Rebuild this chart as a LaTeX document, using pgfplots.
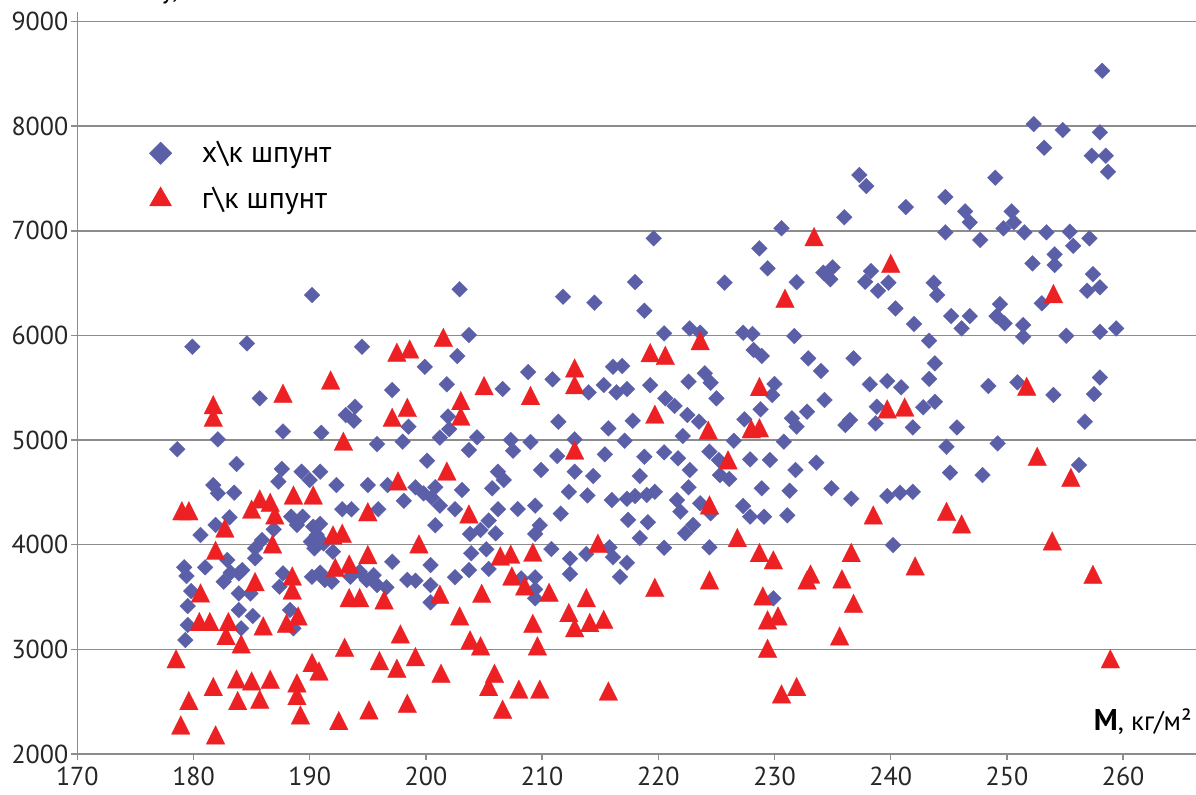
\documentclass[border=0pt]{standalone}
\usepackage{fontspec}
\setmainfont{PT Sans}
\usepackage{pgfplots}
\pgfplotsset{compat=1.18}
\definecolor{myblue}{RGB}{90,95,168}
\definecolor{myred}{RGB}{237,33,36}
\definecolor{gridgray}{RGB}{140,140,140}
\begin{document}
\begin{tikzpicture}
\useasboundingbox (-38.65pt,-20pt) rectangle (559.35pt,377pt);
\begin{axis}[
  at={(0pt,0pt)}, anchor=south west,
  scale only axis,
  width=559.35pt, height=371.15pt,
  xmin=170, xmax=266.27,
  ymin=2000, ymax=9094,
  xtick={170,180,...,260},
  ytick={2000,3000,...,9000},
  axis x line*=bottom, axis y line*=left,
  axis line style={gridgray, line width=0.7pt, -},
  tick align=outside,
  major tick length=3pt,
  tick style={gridgray, line width=0.7pt},
  ymajorgrids,
  grid style={gridgray, line width=0.7pt},
  /pgf/number format/assume math mode=true,
  /pgf/number format/1000 sep={},
  scaled ticks=false,
  ticklabel style={font=\fontsize{13}{15}\selectfont, text=black!85},
  yticklabel style={xshift=2pt},
  legend cell align=left,
  legend style={draw=none, fill=none, at={(0.0586,0.837)}, anchor=north west,
    font=\fontsize{15}{18}\selectfont, row sep=7pt, column sep=13pt},
  clip=false,
]
\addplot[only marks, mark=square*, mark size=2.8pt,
  mark options={rotate=45, fill=myblue, draw=myblue, line width=0.1pt},
  legend image post style={mark size=4pt}]
coordinates {
(190.2,6386)(179.9,5892)(184.6,5924)(194.5,5892)(185.7,5399)(197.1,5478)(193.1,5240)(193.9,5319)(193.8,5185)
(187.7,5082)(191.0,5070)(182.1,5007)(178.6,4912)(195.8,4962)(198.0,4985)(198.5,5128)(183.7,4772)(187.6,4724)
(187.3,4603)(189.3,4698)(190.0,4618)(190.9,4698)(192.3,4570)(181.7,4570)(182.1,4491)(183.5,4497)(195.0,4570)
(196.7,4570)(198.1,4420)
(195.9,4339)(192.8,4339)(193.6,4339)(188.4,4268)(188.9,4189)(189.4,4268)(190.3,4173)(190.9,4199)(186.9,4147)
(183.1,4262)(181.9,4189)(180.6,4093)(185.3,3965)(185.9,4045)(190.1,4029)(190.4,3965)(191.2,4013)(192.0,3933)
(185.3,3870)(182.9,3854)(179.2,3784)(179.4,3701)(181.0,3784)(183.2,3733)(183.9,3726)(184.2,3758)(182.6,3647)
(187.7,3726)(190.2,3694)(190.9,3733)(191.3,3663)(191.9,3647)(193.5,3694)(194.3,3742)(194.9,3663)(195.5,3710)
(195.8,3615)(196.6,3593)(197.1,3837)(198.4,3663)(187.4,3599)(184.9,3534)(179.8,3557)(179.5,3414)(183.9,3534)
(183.9,3376)(185.1,3319)(188.3,3376)(188.6,3201)(179.5,3233)(184.1,3201)(179.3,3089)(190.6,4093)
(202.9,6441)(203.7,6004)(202.7,5803)(199.9,5700)(201.8,5533)(206.6,5488)(208.8,5650)(210.9,5581)(211.8,6370)
(214.5,6313)(218.0,6510)(218.8,6236)(220.5,6020)(214.0,5456)(215.3,5526)(216.1,5701)(216.9,5708)(216.4,5456)
(217.3,5488)(219.3,5525)(220.6,5399)(201.9,5225)(202.0,5104)(201.2,5023)(204.4,5026)(203.7,4905)(211.4,5175)
(207.3,5001)(207.5,4898)(209.0,4982)(211.3,4848)(212.8,5007)(215.7,5112)(217.8,5185)(217.1,4994)(215.4,4864)
(218.8,4841)(220.5,4883)(200.1,4803)(209.9,4714)(212.8,4698)(214.4,4657)(218.4,4657)(206.2,4698)(206.7,4618)
(203.1,4523)(205.7,4539)(199.1,4549)(199.8,4491)(200.8,4549)(200.5,4451)(201.2,4374)(202.5,4339)(212.3,4506)
(213.9,4471)(216.0,4427)(217.3,4439)(218.0,4465)(219.0,4475)(219.7,4506)(206.2,4339)(207.9,4341)(209.4,4374)
(211.6,4297)(200.8,4186)(205.4,4231)(204.7,4141)(203.8,4103)(206.0,4109)(209.8,4186)(209.4,4103)(217.4,4237)
(219.1,4215)(218.4,4064)(203.9,3918)(205.2,3956)(210.8,3959)(212.4,3867)(213.8,3911)(215.8,3975)(216.1,3880)
(217.3,3828)(220.5,3971)(200.4,3806)(199.1,3656)(200.4,3615)(200.4,3450)(202.5,3689)(203.7,3758)(205.4,3768)
(208.2,3678)(209.4,3688)(209.4,3573)(209.4,3487)(212.4,3720)(216.7,3694)
(225.7,6504)(231.9,6510)(234.2,6600)(234.8,6536)(235.0,6651)(237.8,6513)(238.3,6615)(238.9,6427)(239.8,6504)
(240.4,6258)(242.0,6109)(243.3,5950)(222.7,6067)(223.6,6026)(227.3,6026)(228.1,6014)(231.7,5994)(228.2,5861)
(228.9,5803)(232.9,5781)(234.0,5660)(236.8,5781)(222.6,5558)(224.0,5638)(224.5,5548)(225.0,5399)(230.0,5536)
(229.8,5431)(221.4,5326)(222.5,5240)(223.5,5176)(228.8,5294)(227.4,5198)(232.8,5271)(234.3,5383)(231.5,5208)
(231.9,5128)(236.1,5144)(236.5,5192)(238.2,5533)(239.7,5564)(240.9,5504)(238.8,5319)(238.7,5160)(241.9,5121)
(242.8,5314)(243.3,5585)(222.1,5039)(221.7,4826)(222.7,4714)(224.4,4889)(225.2,4810)(226.5,4994)(230.8,4985)
(227.9,4816)(229.6,4810)(231.8,4714)(233.6,4784)(225.3,4666)(226.1,4628)(222.6,4549)(228.9,4539)(231.3,4516)
(234.9,4539)(236.6,4439)(239.7,4465)(240.8,4497)(241.9,4506)(221.6,4427)(221.9,4316)(223.6,4396)(224.5,4301)
(227.3,4370)(227.9,4268)(229.1,4268)(231.1,4281)(223.0,4189)(222.3,4109)(224.4,3975)(240.2,3997)(229.9,3487)
(243.7,6504)(244.0,6386)(245.2,6185)(246.1,6067)(246.8,6185)(249.4,6299)(249.1,6185)(249.8,6116)(251.4,6099)
(251.4,5988)(253.0,6307)(255.1,5997)(257.4,6585)(256.9,6427)(258.0,6460)(258.0,6035)(259.4,6067)(243.8,5733)
(243.8,5366)(248.4,5517)(250.9,5552)(254.0,5431)(258.0,5598)(257.5,5440)(256.7,5176)(245.7,5121)(244.8,4936)
(249.2,4968)(245.1,4689)(247.9,4666)(256.2,4762)
(258.2,8529)(252.3,8020)(254.8,7963)(258.0,7941)(253.2,7794)(257.3,7717)(258.5,7717)(258.7,7564)(249.0,7507)
(237.3,7533)(237.9,7428)(244.7,7323)(241.3,7227)(236.0,7129)(246.4,7186)(246.8,7081)(250.4,7186)(250.6,7081)
(249.7,7024)(244.7,6985)(247.7,6912)(251.5,6985)(253.4,6985)(255.4,6991)(257.1,6928)(255.7,6857)(252.2,6689)
(254.1,6775)(254.1,6673)(230.6,7024)(219.6,6928)(228.7,6832)(229.4,6641)
};
\addlegendentry{х\textbackslash к шпунт}
\addplot[only marks, mark=triangle*, mark size=5.4pt,
  mark options={yscale=1.15, fill=myred, draw=myred, line width=0.1pt},
  legend image post style={mark size=6.2pt, mark options={yscale=1, fill=myred, draw=myred}}]
coordinates {
(181.7,5309)(181.7,5188)(187.7,5418)(191.8,5545)(197.5,5810)(198.6,5840)(197.1,5188)(198.4,5283)(192.9,4960)
(197.6,4580)(179.0,4295)(179.6,4295)(182.7,4130)(185.0,4310)(185.7,4408)(186.6,4376)(187.0,4255)(188.6,4446)
(190.3,4446)(195.0,4286)(186.8,3978)(181.9,3917)(192.0,4064)(192.8,4080)(195.0,3876)(192.2,3754)(193.4,3786)
(185.3,3618)(188.5,3672)(188.5,3538)(180.6,3510)(193.4,3465)(194.3,3465)(196.4,3443)(180.5,3236)(181.4,3236)
(183.0,3236)(182.8,3102)(184.1,3023)(186.0,3195)(188.0,3220)(189.0,3290)(197.8,3118)(178.5,2880)(181.7,2615)
(179.6,2481)(178.9,2248)(181.9,2153)(183.7,2688)(185.0,2669)(186.6,2685)(183.8,2481)(185.7,2494)(188.9,2650)
(188.9,2529)(189.2,2344)(190.2,2844)(190.8,2764)(192.5,2290)(193.0,2991)(195.1,2392)(196.0,2863)(197.5,2790)
(198.4,2455)
(201.5,5952)(205.0,5491)(203.0,5348)(203.0,5199)(209.0,5396)(212.8,5660)(212.8,5500)(219.7,5218)(219.3,5806)
(220.6,5780)(212.8,4876)(201.8,4675)(203.7,4265)(199.4,3978)(206.4,3863)(207.3,3880)(209.2,3899)(214.8,3985)
(207.4,3672)(208.5,3577)(201.2,3497)(204.8,3506)(210.6,3516)(219.7,3563)(202.9,3290)(209.2,3220)(212.3,3322)
(213.8,3465)(214.1,3227)(215.3,3258)(212.8,3178)(203.8,3061)(204.7,3004)(209.6,3004)(199.1,2901)(201.3,2742)
(205.9,2742)(205.4,2615)(208.0,2590)(209.8,2590)(215.7,2573)(206.6,2398)
(230.9,6326)(223.6,5921)(228.7,5482)(224.3,5065)(228.0,5079)(228.7,5088)(239.7,5268)(241.2,5287)(226.0,4781)
(224.4,4351)(238.5,4255)(226.8,4039)(228.7,3896)(229.9,3826)(236.6,3896)(242.1,3768)(224.4,3634)(232.8,3634)
(233.1,3691)(235.8,3644)(236.8,3411)(229.0,3481)(229.4,3252)(230.3,3290)(235.6,3099)(229.4,2981)(230.6,2545)
(231.9,2615)
(254.0,6370)(251.7,5485)(252.6,4815)(255.5,4614)(244.8,4290)(246.1,4169)(253.9,4007)(257.4,3688)(258.9,2880)
(233.4,6915)(240.0,6660)
};
\addlegendentry{г\textbackslash к шпунт}
\node[anchor=base east, inner sep=0pt] at (rel axis cs:0.9965,0.0323)
  {{\fontsize{15}{18}\selectfont\bfseries M}{\fontsize{13.5}{16}\selectfont, кг/м²}};
\node[anchor=south west, inner sep=0pt] at (rel axis cs:0.0748,1.0103)
  {\fontsize{13.5}{16}\selectfont у,};
\end{axis}
\end{tikzpicture}
\end{document}
